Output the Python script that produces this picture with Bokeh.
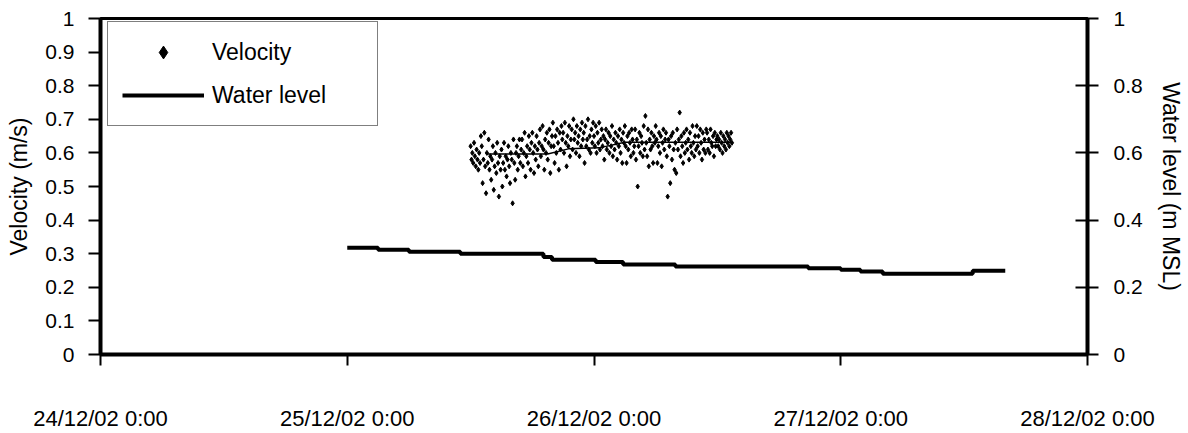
import pandas as pd
from bokeh.plotting import figure
from bokeh.models import (Range1d, LinearAxis, FixedTicker, CustomJSTickFormatter,
                          Legend, LegendItem)
from bokeh.embed import file_html
from bokeh.resources import INLINE

FONT = "Liberation Sans"

# ---------------- data ----------------
vel_start = "2002-12-25 12:00"
vel_step = "5min"
velocity = [
    0.62, 0.58, 0.60, 0.57, 0.63, 0.59, 0.56, 0.61, 0.58, 0.55, 0.60, 0.57,
    0.65, 0.62, 0.51, 0.58, 0.66, 0.56, 0.48, 0.60, 0.57, 0.64, 0.55, 0.59,
    0.52, 0.58, 0.62, 0.49, 0.56, 0.60, 0.54, 0.63, 0.57, 0.47, 0.59, 0.55,
    0.61, 0.50, 0.57, 0.63, 0.55, 0.59, 0.53, 0.58, 0.62, 0.56, 0.51, 0.60,
    0.58, 0.45, 0.64, 0.57, 0.52, 0.60, 0.62, 0.55, 0.59, 0.64, 0.57, 0.61,
    0.64, 0.56, 0.60, 0.66, 0.53, 0.59, 0.62, 0.57, 0.65, 0.61, 0.55, 0.63,
    0.66, 0.60, 0.54, 0.62, 0.58, 0.65, 0.61, 0.56, 0.63, 0.67, 0.59, 0.62,
    0.68, 0.61, 0.55, 0.64, 0.60, 0.66, 0.58, 0.63, 0.67, 0.54, 0.62, 0.65,
    0.69, 0.62, 0.57, 0.65, 0.60, 0.67, 0.63, 0.55, 0.66, 0.61, 0.68, 0.64,
    0.66, 0.60, 0.69, 0.63, 0.56, 0.65, 0.62, 0.68, 0.59, 0.64, 0.67, 0.61,
    0.70, 0.64, 0.66, 0.60, 0.68, 0.63, 0.65, 0.59, 0.67, 0.62, 0.69, 0.64,
    0.66, 0.57, 0.68, 0.62, 0.64, 0.70, 0.61, 0.65, 0.60, 0.67, 0.63, 0.69,
    0.65, 0.62, 0.68, 0.60, 0.66, 0.63, 0.69, 0.61, 0.64, 0.67, 0.62, 0.65,
    0.58, 0.64, 0.67, 0.61, 0.63, 0.66, 0.60, 0.65, 0.62, 0.68, 0.59, 0.64,
    0.61, 0.66, 0.63, 0.58, 0.65, 0.62, 0.67, 0.60, 0.64, 0.57, 0.66, 0.63,
    0.68, 0.62, 0.57, 0.65, 0.61, 0.66, 0.63, 0.59, 0.67, 0.64, 0.60, 0.62,
    0.67, 0.58, 0.64, 0.50, 0.62, 0.66, 0.60, 0.65, 0.63, 0.59, 0.68, 0.61,
    0.71, 0.63, 0.59, 0.67, 0.56, 0.64, 0.61, 0.66, 0.62, 0.57, 0.65, 0.63,
    0.68, 0.64, 0.57, 0.62, 0.66, 0.60, 0.65, 0.56, 0.63, 0.67, 0.61, 0.64,
    0.66, 0.59, 0.47, 0.64, 0.62, 0.51, 0.65, 0.58, 0.66, 0.61, 0.55, 0.63,
    0.54, 0.67, 0.61, 0.64, 0.72, 0.59, 0.65, 0.62, 0.57, 0.66, 0.60, 0.63,
    0.67, 0.61, 0.64, 0.58, 0.66, 0.62, 0.60, 0.68, 0.63, 0.59, 0.65, 0.61,
    0.68, 0.62, 0.65, 0.60, 0.67, 0.63, 0.58, 0.66, 0.61, 0.64, 0.60, 0.67,
    0.66, 0.61, 0.64, 0.60, 0.67, 0.63, 0.62, 0.65, 0.59, 0.66, 0.62, 0.64,
    0.65, 0.62, 0.64, 0.61, 0.66, 0.63, 0.60, 0.65, 0.62, 0.64, 0.61, 0.66,
    0.63, 0.65, 0.62, 0.64, 0.66, 0.63,
]

trend_times = ["2002-12-25 13:30", "2002-12-25 19:30", "2002-12-25 21:30",
               "2002-12-26 00:30", "2002-12-26 03:00", "2002-12-26 13:30"]
trend_values = [0.597, 0.597, 0.612, 0.615, 0.632, 0.632]

wl_times = ["2002-12-25 00:00", "2002-12-25 03:00", "2002-12-25 06:00",
            "2002-12-25 11:00", "2002-12-25 19:05", "2002-12-25 19:55",
            "2002-12-26 00:10", "2002-12-26 02:50", "2002-12-26 07:55",
            "2002-12-26 20:50", "2002-12-27 00:00", "2002-12-27 01:55",
            "2002-12-27 04:05", "2002-12-27 12:50", "2002-12-27 16:00"]
wl_levels = [0.318, 0.312, 0.306, 0.300, 0.290, 0.282, 0.275, 0.268, 0.262,
             0.257, 0.252, 0.247, 0.240, 0.249, 0.249]

x_tick_dates = ["2002-12-24", "2002-12-25", "2002-12-26", "2002-12-27", "2002-12-28"]
x_tick_labels = ["24/12/02 0:00", "25/12/02 0:00", "26/12/02 0:00",
                 "27/12/02 0:00", "28/12/02 0:00"]
left_ticks = [0, 0.1, 0.2, 0.3, 0.4, 0.5, 0.6, 0.7, 0.8, 0.9, 1]
right_ticks = [0, 0.2, 0.4, 0.6, 0.8, 1]

# ---------------- figure ----------------
vel_times = pd.date_range(vel_start, periods=len(velocity), freq=vel_step)
x_ticks_ms = [float(pd.Timestamp(d).value // 10**6) for d in x_tick_dates]

p = figure(width=1188, height=433, x_axis_type="datetime",
           x_range=Range1d(pd.Timestamp(x_tick_dates[0]), pd.Timestamp(x_tick_dates[-1])),
           y_range=Range1d(0, 1),
           output_backend="svg", toolbar_location=None,
           min_border_left=100, min_border_right=101,
           min_border_top=18, min_border_bottom=79)
p.extra_y_ranges = {"wl": Range1d(0, 1)}
p.background_fill_color = "white"
p.border_fill_color = "white"
p.outline_line_color = "black"
p.outline_line_width = 3
p.xgrid.visible = False
p.ygrid.visible = False

vel_r = p.scatter(vel_times, velocity, marker="diamond", size=5,
                  color="black")
p.line(pd.to_datetime(trend_times), trend_values, line_color="black", line_width=1.5)
wl_r = p.step(pd.to_datetime(wl_times), wl_levels, mode="after",
              line_color="black", line_width=4, y_range_name="wl")

# x axis
xa = p.xaxis[0]
xa.ticker = FixedTicker(ticks=x_ticks_ms)
xa.formatter = CustomJSTickFormatter(args=dict(tvals=x_ticks_ms, tlabels=x_tick_labels), code="""
    for (let i = 0; i < tvals.length; i++) {
        if (Math.abs(tvals[i] - tick) < 1000) return tlabels[i];
    }
    return '';
""")
yfmt = "return String(Math.round(tick * 10) / 10);"

xa.axis_line_width = 4
xa.major_tick_out = 11
xa.major_tick_in = 0
xa.major_tick_line_width = 2
xa.minor_tick_line_color = None
xa.major_label_standoff = 40
xa.major_label_text_font = FONT
xa.major_label_text_font_size = "22px"
xa.major_label_text_color = "black"

ya = p.yaxis[0]
ya.ticker = FixedTicker(ticks=left_ticks)
ya.formatter = CustomJSTickFormatter(code=yfmt)
ya.axis_label = "Velocity (m/s)"

yr = LinearAxis(y_range_name="wl", axis_label="Water level (m MSL)")
yr.ticker = FixedTicker(ticks=right_ticks)
yr.formatter = CustomJSTickFormatter(code=yfmt)
p.add_layout(yr, "right")

for ax, tin, tout, st, lst in [(ya, 0, 12, 14, 10), (yr, 12, 11, 15, 12)]:
    ax.axis_line_width = 4
    ax.major_tick_in = tin
    ax.major_tick_out = tout
    ax.major_tick_line_width = 2
    ax.minor_tick_line_color = None
    ax.major_label_standoff = st
    ax.major_label_text_font = FONT
    ax.major_label_text_font_size = "21px"
    ax.major_label_text_color = "black"
    ax.axis_label_standoff = lst
    ax.axis_label_text_font = FONT
    ax.axis_label_text_font_size = "23px"
    ax.axis_label_text_font_style = "normal"
    ax.axis_label_text_color = "black"

legend = Legend(items=[LegendItem(label="Velocity", renderers=[vel_r]),
                       LegendItem(label="Water level", renderers=[wl_r])],
                location=(7, 228), orientation="vertical")
legend.border_line_color = "black"
legend.border_line_width = 1.5
legend.background_fill_color = "white"
legend.background_fill_alpha = 1
legend.padding = 14
legend.margin = 0
legend.spacing = 11
legend.glyph_width = 82
legend.glyph_height = 32
legend.label_height = 32
legend.label_width = 151
legend.label_standoff = 8
legend.label_text_font = FONT
legend.label_text_font_size = "23px"
legend.label_text_color = "black"
p.add_layout(legend)

open("out.html", "w").write(file_html(p, INLINE))
